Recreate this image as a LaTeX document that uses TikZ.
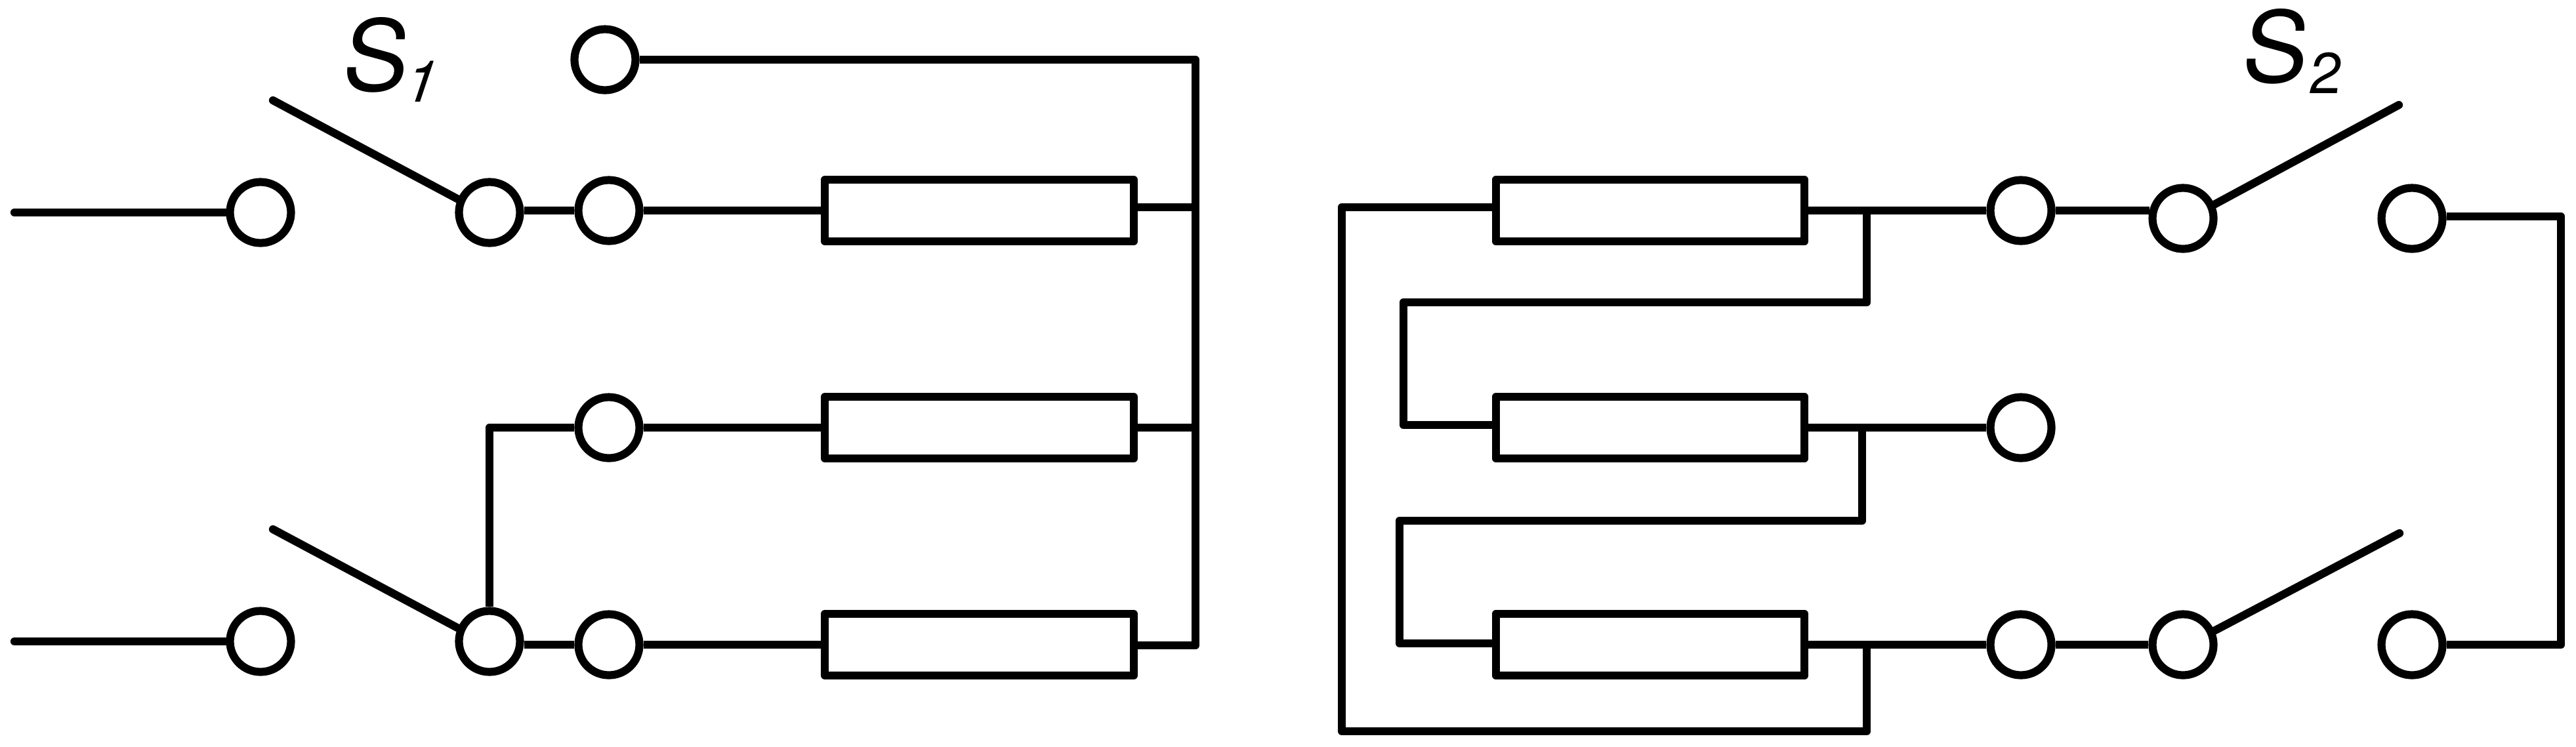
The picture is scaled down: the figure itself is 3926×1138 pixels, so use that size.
\documentclass[tikz,border=0pt]{standalone}
\usepackage{fontspec}
\setmainfont{TeX Gyre Heros}
\newfontfamily\labslant[FakeSlant=0.12]{TeX Gyre Heros}
\tikzset{
  wire/.style={draw=black,line width=3.05pt,line join=round,line cap=butt},
  feed/.style={draw=black,line width=3.05pt,line cap=round},
  blade/.style={draw=black,line width=3.05pt,line cap=round},
  term/.style={circle,draw=black,line width=3.05pt,minimum size=23.25pt,inner sep=0pt},
  res/.style={rectangle,draw=black,line width=3.05pt,line join=round,minimum width=117.6pt,minimum height=23.5pt,inner sep=0pt},
  lab/.style={anchor=base west,inner sep=0pt,outer sep=0pt,text=black}
}
\newcommand{\swlabel}[2]{{\fontsize{37.5pt}{37.5pt}\labslant\selectfont S\kern#1\raisebox{-4.25pt}{\fontsize{22pt}{22pt}\selectfont #2}}}
\begin{document}
\begin{tikzpicture}[x=0.25pt,y=-0.25pt]
\useasboundingbox (0,0) rectangle (3926,1138);
% left half: terminals
\node[term] (inA) at (397,324) {};
\node[term] (inB) at (397,978) {};
\node[term] (swA) at (746,324) {};
\node[term] (swB) at (746,978) {};
\node[term] (top) at (922,91) {};
\node[term] (lA) at (928,321) {};
\node[term] (lB) at (928,652) {};
\node[term] (lC) at (928,983) {};
% left half: resistors
\node[res] (rA) at (1492.5,321) {};
\node[res] (rB) at (1492.5,652) {};
\node[res] (rC) at (1492.5,983) {};
% right half: resistors
\node[res] (qA) at (2515,321) {};
\node[res] (qB) at (2515,652) {};
\node[res] (qC) at (2515,983) {};
% right half: terminals
\node[term] (mA) at (3080,321) {};
\node[term] (mB) at (3080,652) {};
\node[term] (mC) at (3080,983) {};
\node[term] (sA) at (3327,333) {};
\node[term] (sB) at (3327,983) {};
\node[term] (oA) at (3676,333) {};
\node[term] (oB) at (3676,983) {};
% free ends and corners
\coordinate (feedA) at (22,324);
\coordinate (feedB) at (22,978);
\coordinate (tipA) at (416,153);
\coordinate (tipB) at (416,807);
\coordinate (tipC) at (3656,160);
\coordinate (tipD) at (3657,813);
\coordinate (busT) at (1822,91);
\coordinate (busA) at (1822,316);
\coordinate (busB) at (1822,652);
\coordinate (busC) at (1822,984);
\coordinate (kneeB) at (746,652);
\coordinate (loopA) at (2045,316);
\coordinate (loopB) at (2045,1115);
\coordinate (loopC) at (2845,1115);
\coordinate (loopD) at (2845,983);
\coordinate (linkA) at (2845,321);
\coordinate (linkB) at (2845,461);
\coordinate (linkC) at (2139,461);
\coordinate (linkD) at (2139,648);
\coordinate (linkE) at (2838,652);
\coordinate (linkF) at (2838,794);
\coordinate (linkG) at (2133,794);
\coordinate (linkH) at (2133,981);
\coordinate (retA) at (3903,330);
\coordinate (retB) at (3903,983);
% left half: wiring
\draw[feed] (feedA) -- (inA.west |- feedA);
\draw[feed] (feedB) -- (inB.west |- feedB);
\draw[blade] (tipA) -- (swA.157);
\draw[blade] (tipB) -- (swB.157);
\draw[wire] (lA -| swA.east) -- (lA.west);
\draw[wire] (lC -| swB.east) -- (lC.west);
\draw[wire] (swB.north) -- (kneeB) -- (lB.west);
\draw[wire] (lA.east) -- (rA.west);
\draw[wire] (lB.east) -- (rB.west);
\draw[wire] (lC.east) -- (rC.west);
\draw[wire] (top.east) -- (busT) -- (busC) -- (busC -| rC.east);
\draw[wire] (busA -| rA.east) -- (busA);
\draw[wire] (rB.east) -- (busB);
% right half: wiring
\draw[wire] (qA.east) -- (mA.west);
\draw[wire] (qB.east) -- (mB.west);
\draw[wire] (qC.east) -- (mC.west);
\draw[wire] (mA.east) -- (mA -| sA.167);
\draw[wire] (mC.east) -- (sB.west);
\draw[blade] (tipC) -- (sA.24);
\draw[blade] (tipD) -- (sB.24);
\draw[wire] (retA -| oA.east) -- (retA) -- (retB) -- (oB.east);
\draw[wire] (loopA -| qA.west) -- (loopA) -- (loopB) -- (loopC) -- (loopD);
\draw[wire] (linkA) -- (linkB) -- (linkC) -- (linkD) -- (linkD -| qB.west);
\draw[wire] (linkE) -- (linkF) -- (linkG) -- (linkH) -- (linkH -| qC.west);
% labels
\node[lab] (labA) at (518,138) {\swlabel{-1pt}{\itshape 1}};
\node[lab] (labB) at (3413,125) {\swlabel{1pt}{2}};
\end{tikzpicture}
\end{document}
